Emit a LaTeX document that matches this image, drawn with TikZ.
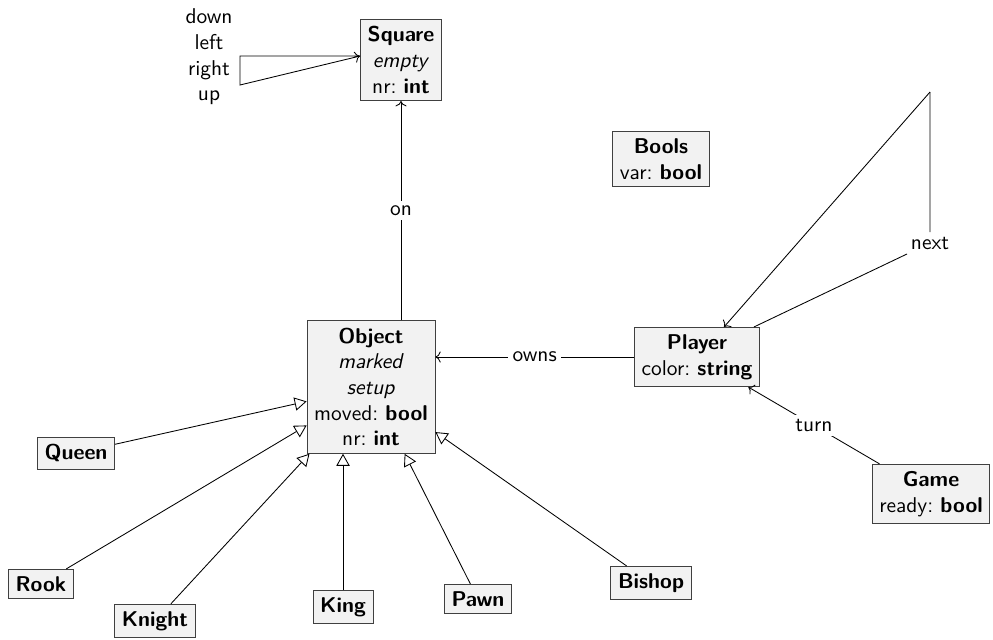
\documentclass[tikz,border=0pt]{standalone}
\usepackage{tikz}
\usetikzlibrary{arrows.meta,calc}
\renewcommand{\familydefault}{\sfdefault}

\begin{document}
\begin{tikzpicture}[x=0.467pt,y=-0.467pt,
  cls/.style={draw=black!75,fill=black!5,align=center},
  lbl/.style={fill=white,inner sep=2pt},
  isa/.style={-{Triangle[open,length=5.6pt,width=6.2pt]}}]
\useasboundingbox (0,0) rectangle (993,639);
{
\node[cls] (sq) at (401,60) {\textbf{Square}\\\textit{empty}\\nr:~\textbf{int}};
\node[cls] (bools) at (661,159) {\textbf{Bools}\\var:~\textbf{bool}};
\node[cls] (obj) at (371,387) {\textbf{Object}\\\textit{marked}\\\textit{setup}\\moved:~\textbf{bool}\\nr:~\textbf{int}};
\node[cls] (pl) at (697,357) {\textbf{Player}\\color:~\textbf{string}};
\node[cls] (game) at (931,494) {\textbf{Game}\\ready:~\textbf{bool}};
\node[cls] (King) at (343,607) {\textbf{King}};
\foreach \n/\x/\y in {Queen/76/453,Rook/41/584,Knight/155/621,Pawn/478/599,Bishop/651/583}{
\node[cls] (\n) at (\x,\y) {\textbf{\n}};
\draw[isa] (\n) -- (obj);
}
\draw[isa] (King) -- (King |- obj.south);
% square loop
\node[align=center,inner sep=0pt] (dirs) at (209,57) {down\\left\\right\\up};
\coordinate (lpA) at (240,56);
\coordinate (lpB) at (240,85);
\draw[->] ($(sq.west)+(0,-4)$) -- (lpA) -- (lpB) -- ($(sq.west)+(0,-4)$);
\draw[->] (sq.south |- obj.north) -- node[lbl]{on} (sq.south);
\draw[->] (pl.west) -- node[lbl]{owns} (pl.west -| obj.east);
\draw[->] (game) -- node[lbl]{turn} (pl);
% next loop
\node[lbl] (nxtl) at (930,243) {next};
\coordinate (nxt) at (930,92);
\draw ($(pl.north east)+(-6,0)$) -- (nxtl) -- (nxt);
\draw[->] (nxt) -- ($(pl.north)+(27,0)$);
}
\end{tikzpicture}
\end{document}
